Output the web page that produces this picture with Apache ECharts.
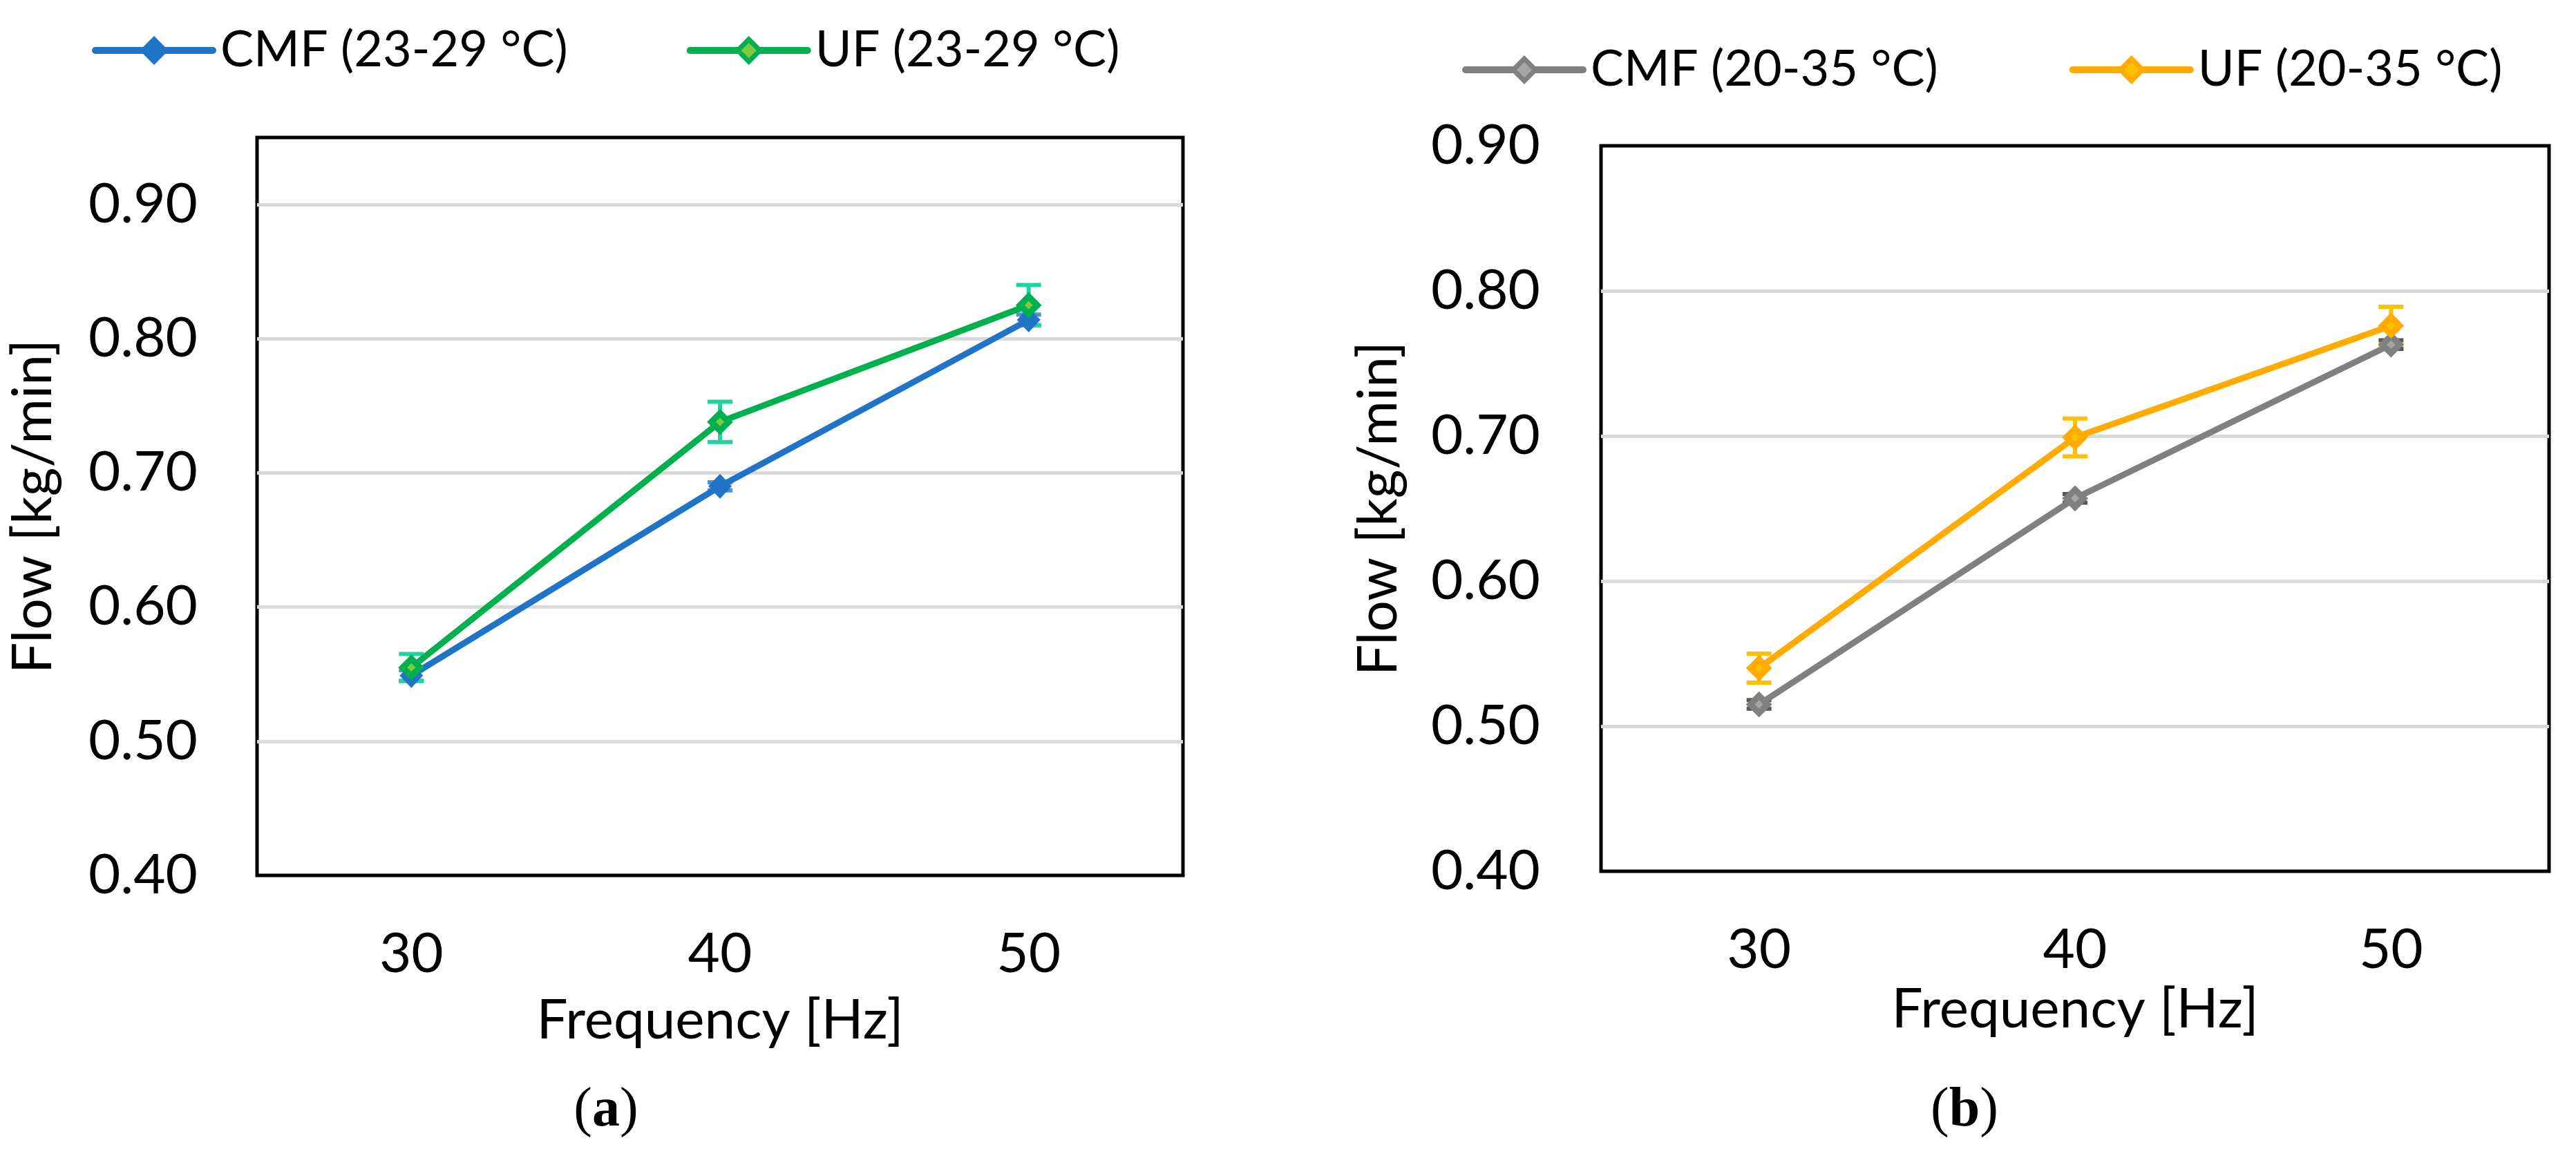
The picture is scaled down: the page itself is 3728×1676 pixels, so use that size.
<!DOCTYPE html>
<html>
<head>
<meta charset="utf-8">
<script src="https://cdn.jsdelivr.net/npm/echarts@6/dist/echarts.min.js"></script>
<style>
html,body{margin:0;padding:0;background:#fff;}
#c{width:3728px;height:1676px;}
</style>
</head>
<body>
<div id="c"></div>
<script>
// ---- data ----
const categories = ['30', '40', '50'];
const yTicksA = [0.40, 0.50, 0.60, 0.70, 0.80, 0.90];
const yTicksB = [0.40, 0.50, 0.60, 0.70, 0.80, 0.90];

const cmfA = [0.549, 0.690, 0.814];
const cmfAErr = [0.004, 0.003, 0.004];
const ufA = [0.555, 0.738, 0.825];
const ufAErr = [0.010, 0.015, 0.015];

const cmfB = [0.515, 0.657, 0.763];
const cmfBErr = [0.003, 0.003, 0.003];
const ufB = [0.540, 0.699, 0.776];
const ufBErr = [0.010, 0.013, 0.013];

const namesA = ['CMF (23-29 °C)', 'UF (23-29 °C)'];
const namesB = ['CMF (20-35 °C)', 'UF (20-35 °C)'];

// ---- styles ----
const FONT = 'Lato';
const C_BLUE = '#1F74C8', C_GREEN = '#00B04F', C_GREEN_IN = '#7CCB3F', C_GREEN_ERR = '#22D3A0';
const C_GRAY = '#808080', C_GRAY_IN = '#A6A6A6', C_GRAY_ERR = '#595959';
const C_ORANGE = '#FFAB00', C_ORANGE_IN = '#FFC000', C_ORANGE_ERR = '#FFC000';

function errData(vals, errs) {
  return vals.map((v, i) => [i, v - errs[i], v + errs[i]]);
}

function errSeries(idx, vals, errs, color) {
  return {
    type: 'custom',
    xAxisIndex: idx, yAxisIndex: idx,
    z: 1,
    silent: true,
    data: errData(vals, errs),
    renderItem: function (params, api) {
      const x = api.value(0);
      const lo = api.coord([x, api.value(1)]);
      const hi = api.coord([x, api.value(2)]);
      const hw = 18;
      const st = { stroke: color, lineWidth: 6 };
      return {
        type: 'group',
        children: [
          { type: 'line', shape: { x1: lo[0], y1: lo[1], x2: hi[0], y2: hi[1] }, style: st },
          { type: 'line', shape: { x1: lo[0] - hw, y1: lo[1], x2: lo[0] + hw, y2: lo[1] }, style: st },
          { type: 'line', shape: { x1: hi[0] - hw, y1: hi[1], x2: hi[0] + hw, y2: hi[1] }, style: st }
        ]
      };
    }
  };
}

function lineSeries(idx, name, vals, color, fill, bw) {
  return {
    type: 'line', name: name,
    xAxisIndex: idx, yAxisIndex: idx,
    data: vals,
    z: 3,
    symbol: 'diamond',
    symbolSize: bw > 0 ? [25, 25] : [34, 36],
    lineStyle: { color: color, width: 9 },
    itemStyle: { color: fill, borderColor: color, borderWidth: bw },
    emphasis: { disabled: true }
  };
}

function yAxis(idx, max, ticks, margin) {
  return {
    type: 'value', gridIndex: idx,
    min: ticks[0], max: max, interval: 0.1,
    name: 'Flow [kg/min]',
    nameLocation: 'middle',
    nameGap: idx === 0 ? 284 : 282,
    nameTextStyle: { fontFamily: FONT, fontSize: 80, color: '#000' },
    axisLine: { show: false },
    axisTick: { show: false },
    axisLabel: {
      fontFamily: FONT, fontSize: 80, color: '#000', margin: margin,
      showMaxLabel: max === ticks[ticks.length - 1],
      formatter: v => v.toFixed(2)
    },
    splitLine: { show: true, showMinLine: false, showMaxLine: false, lineStyle: { color: '#D9D9D9', width: 5 } }
  };
}

function xAxis(idx, nameGap, margin) {
  return {
    type: 'category', gridIndex: idx,
    data: categories, boundaryGap: true,
    name: 'Frequency [Hz]',
    nameLocation: 'middle', nameGap: nameGap,
    nameTextStyle: { fontFamily: FONT, fontSize: 80, color: '#000' },
    axisLine: { show: false },
    axisTick: { show: false },
    axisLabel: { fontFamily: FONT, fontSize: 80, color: '#000', margin: margin }
  };
}

const legendCommon = {
  orient: 'horizontal',
  itemWidth: 170, itemHeight: 40,
  textStyle: { fontFamily: FONT, fontSize: 72, color: '#000', padding: [0, 0, 0, 6] },
  lineStyle: { width: 10, cap: 'round' },
  itemStyle: { borderWidth: 7 },
  selectedMode: false
};

const option = {
  backgroundColor: '#fff',
  animation: false,
  grid: [
    { left: 372, top: 199, width: 1340, height: 1068, show: true, borderColor: '#000', borderWidth: 5, backgroundColor: 'transparent' },
    { left: 2317, top: 211, width: 1372, height: 1050, show: true, borderColor: '#000', borderWidth: 5, backgroundColor: 'transparent' }
  ],
  legend: [
    Object.assign({}, legendCommon, { data: namesA, left: 128, top: 32, itemGap: 172 }),
    Object.assign({}, legendCommon, { data: namesB, left: 2111, top: 60, itemGap: 190 })
  ],
  xAxis: [xAxis(0, 170, 74), xAxis(1, 160, 74)],
  yAxis: [yAxis(0, 0.95, yTicksA, 86), yAxis(1, 0.90, yTicksB, 88)],
  series: [
    errSeries(0, cmfA, cmfAErr, '#4F8FD6'),
    errSeries(0, ufA, ufAErr, C_GREEN_ERR),
    lineSeries(0, namesA[0], cmfA, C_BLUE, C_BLUE, 0),
    lineSeries(0, namesA[1], ufA, C_GREEN, C_GREEN_IN, 9),
    errSeries(1, cmfB, cmfBErr, C_GRAY_ERR),
    errSeries(1, ufB, ufBErr, C_ORANGE_ERR),
    lineSeries(1, namesB[0], cmfB, C_GRAY, C_GRAY_IN, 9),
    lineSeries(1, namesB[1], ufB, C_ORANGE, C_ORANGE_IN, 9)
  ],
  graphic: [
    {
      type: 'text', x: 877, y: 1608,
      style: {
        text: '{p|(}{b|a}{p|)}',
        rich: {
          p: { fontFamily: 'Liberation Serif', fontSize: 80, color: '#000' },
          b: { fontFamily: 'Liberation Serif', fontSize: 80, fontWeight: 'bold', color: '#000' }
        },
        align: 'center', verticalAlign: 'middle'
      }
    },
    {
      type: 'text', x: 2843, y: 1608,
      style: {
        text: '{p|(}{b|b}{p|)}',
        rich: {
          p: { fontFamily: 'Liberation Serif', fontSize: 80, color: '#000' },
          b: { fontFamily: 'Liberation Serif', fontSize: 80, fontWeight: 'bold', color: '#000' }
        },
        align: 'center', verticalAlign: 'middle'
      }
    }
  ]
};

const chart = echarts.init(document.getElementById('c'), null, { renderer: 'canvas' });
chart.setOption(option);
</script>
</body>
</html>
